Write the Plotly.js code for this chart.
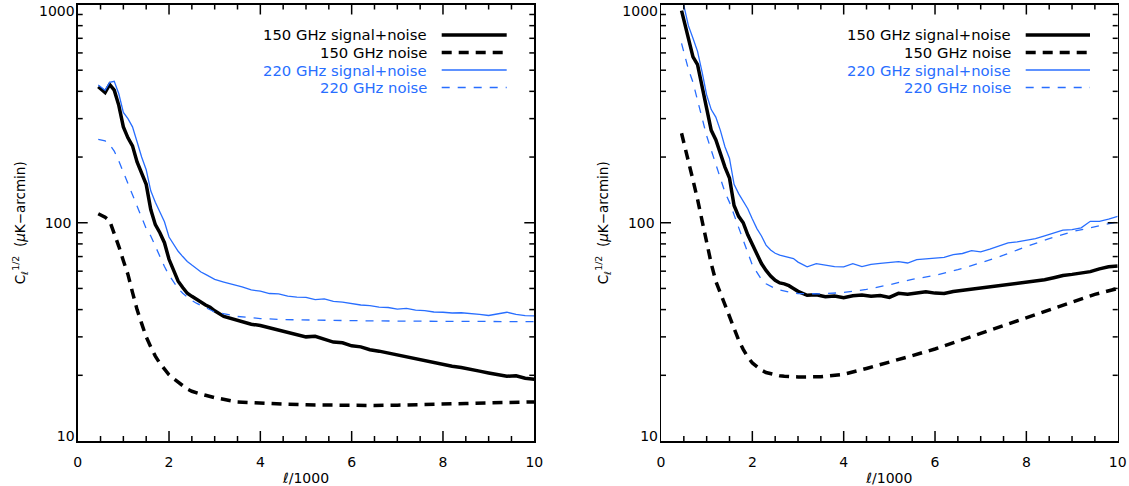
<!DOCTYPE html>
<html>
<head>
<meta charset="utf-8">
<script src="https://cdn.plot.ly/plotly-3.0.1.min.js"></script>
<style>html,body{margin:0;padding:0;background:#fff;}#chart{width:1129px;height:486px;}</style>
</head>
<body>
<div id="chart"></div>
<script>
// ---- data ----
const ellSignal = [0.45,0.6,0.7,0.8,0.9,1.0,1.1,1.2,1.3,1.4,1.5,1.6,1.7,1.8,1.9,2.0,2.1,2.2,2.3,2.4,2.5,2.6,2.7,2.8,2.9,3.0,
  3.2,3.4,3.6,3.8,4.0,4.2,4.4,4.6,4.8,5.0,5.2,5.4,5.6,5.8,6.0,6.2,6.4,6.6,6.8,7.0,7.2,7.4,7.6,7.8,8.0,8.2,8.4,8.6,8.8,9.0,9.2,9.4,9.6,9.8,10.0];
const ellNoise = [0.45,0.6,0.7,0.8,0.9,1.0,1.1,1.2,1.3,1.4,1.5,1.6,1.7,1.8,1.9,2.0,2.1,2.2,2.3,2.4,2.5,2.6,2.7,2.8,2.9,3.0,
  3.5,4.0,4.5,5.0,5.5,6.0,6.5,7.0,7.5,8.0,8.5,9.0,9.5,10.0];

// left panel
const left150SN = [420,395,430,405,345,275,245,225,190,168,150,115,98,90,81,68,60,54,50.5,47.5,46,44.5,43.3,42,41,39.5,
  37.2,36.3,35.3,34.3,33.8,33.0,32.5,31.6,31.0,30.0,30.2,29.2,28.4,28.2,27.3,27.0,26.2,25.8,25.3,24.8,24.2,23.7,23.3,22.8,22.4,22.0,21.7,21.2,20.9,20.5,20.2,19.8,19.9,19.4,19.2];
const left150N = [110,106,102,90,78,67,58,48,40,34.6,30,27,24.5,22.7,21.2,20.1,19.3,18.6,17.9,17.3,16.9,16.6,16.4,16.2,16.0,15.8,
  15.1,14.9,14.75,14.65,14.6,14.55,14.55,14.6,14.65,14.75,14.85,14.95,15.0,15.1];
const left220SN = [428,405,440,445,390,320,300,275,235,200,175,140,124,112,101,86,80,74,70,66.5,64,61.5,59.5,58,56.5,55,
  53.5,52.3,50.8,49.2,48.6,47.4,47.2,46.1,45.6,45.5,44.4,44.8,43.6,43.3,42.6,42.0,41.7,41.1,40.9,40.2,40.5,39.8,39.6,39.0,38.9,38.6,38.7,38.2,38.0,37.6,38.2,38.9,38.0,37.5,37.4];
const left220N = [241,237,228,213,192,170,150,133,118,105,94,87,78,70,63,57.5,53.5,50,47.5,45.5,44,42.8,41.8,40.8,39.8,39,
  37.2,36.4,36.0,35.8,35.7,35.6,35.5,35.4,35.4,35.3,35.3,35.3,35.2,35.2];

// right panel
const right150SN = [938,700,575,530,420,320,265,240,205,180,160,120,107,100,88,80,72,65,60.5,57,54.5,53,52.5,51.5,50,48.5,
  46.5,46.8,45.8,46.2,45.4,46.3,46.7,46.0,46.4,45.5,47.5,47.0,47.6,48.3,47.6,47.4,48.4,49.0,49.6,50.5,50.9,51.4,52.3,52.8,53.4,53.9,54.8,56.0,57.3,58.0,58.7,59.7,61.5,62.8,63.4];
const right150N = [257,195,157,128,102,81,65,54,47.5,41.5,36.5,32.5,29,26.3,24.2,22.8,21.8,21.1,20.6,20.3,20.1,19.9,19.8,19.7,19.7,19.65,
  19.7,20.2,21.5,22.9,24.6,26.4,28.7,31.2,33.7,36.6,39.8,43.2,47,50];
const right220SN = [1100,800,700,610,490,385,330,305,265,223,197,150,136,126,116,104,94,87,79,75,72.5,71,70,69.5,68.5,66,
  62.8,65,64.2,63,62.8,65.0,63.0,64.5,65.2,65.8,66.3,65.4,67.8,68.3,68.8,69.4,71.5,72.3,74.5,73.6,75.8,78.2,80.9,81.8,83.0,84.5,87.0,89.5,92.5,93.0,94.8,101.5,101.5,104,107];
const right220N = [663,505,440,365,305,250,215,185,160,138,124,108,94,83,73,64,59,55,52.5,51,50,49.2,48.6,48.1,47.7,47.4,
  47.2,47.9,49.5,52,55,57.4,61,65.5,71,77.8,84.5,91,96,101];

const xRange = [0, 10];
const xTickVals = [0,2,4,6,8,10];
const xMinorVals = [0.5,1,1.5,2.5,3,3.5,4.5,5,5.5,6.5,7,7.5,8.5,9,9.5];
const yTickVals = [10,100,1000];
const yMinorVals = [20,30,40,50,60,70,80,90,200,300,400,500,600,700,800,900];
const legendLabels = ['150 GHz signal+noise','150 GHz noise','220 GHz signal+noise','220 GHz noise'];

// ---- styling ----
const W = 1129, H = 486;
const px = v => v / W, py = v => 1 - v / H;
const BLUE = 'rgb(40,110,255)';
const FONT = 'DejaVu Sans, Liberation Sans, sans-serif';
const styles = [
  {color:'#000', width:3.5, dash:'solid'},
  {color:'#000', width:3.5, dash:'10px,7px'},
  {color:BLUE, width:1.3, dash:'solid'},
  {color:BLUE, width:1.3, dash:'8px,8px'}
];

function tr(x, y, s, xa, ya) {
  return {x:x, y:y, type:'scatter', mode:'lines', xaxis:xa, yaxis:ya, showlegend:false,
          line:{color:s.color, width:s.width, dash:s.dash}, hoverinfo:'skip'};
}
// blue traces sit on overlaid y axes (same range) that carry the edge tick labels
const data = [
  tr(ellSignal, left150SN, styles[0], 'x', 'y'),
  tr(ellNoise, left150N, styles[1], 'x', 'y'),
  tr(ellSignal, left220SN, styles[2], 'x', 'y3'),
  tr(ellNoise, left220N, styles[3], 'x', 'y4'),
  tr(ellSignal, right150SN, styles[0], 'x2', 'y2'),
  tr(ellNoise, right150N, styles[1], 'x2', 'y2'),
  tr(ellSignal, right220SN, styles[2], 'x2', 'y5'),
  tr(ellNoise, right220N, styles[3], 'x2', 'y6')
];

const tickfont = {family:FONT, size:14, color:'#000'};
const YR = [1, 3];
function xAxis(domain, anchor) {
  return {domain:domain, anchor:anchor, range:xRange, showline:true, linecolor:'#000', linewidth:1.5,
    mirror:true, ticks:'', ticklabelstandoff:8,
    tickmode:'array', tickvals:xTickVals, ticktext:xTickVals.map(String),
    showgrid:false, zeroline:false, tickfont:tickfont, fixedrange:true,
    title:{text:'ℓ/1000', font:{family:FONT, size:14, color:'#000'}, standoff:5}};
}
function yAxis(domain, anchor) {
  return {domain:domain, anchor:anchor, type:'log', range:YR, showline:true, linecolor:'#000', linewidth:1.5,
    mirror:true, ticks:'', ticklabelstandoff:2,
    tickmode:'array', tickvals:[100], ticktext:['100'],
    showgrid:false, zeroline:false, tickfont:tickfont, fixedrange:true,
    title:{text:'C<sub>ℓ</sub><sup>1/2</sup>  (<i>μ</i>K−arcmin)', font:{family:FONT, size:13.5, color:'#000'}, standoff:16}};
}
function yEdgeLabel(overlay, anchor, val, shift) {
  return {overlaying:overlay, anchor:anchor, type:'log', range:YR, showline:false, ticks:'',
    tickmode:'array', tickvals:[val], ticktext:[String(val)], ticklabelshift:shift, ticklabelstandoff:2,
    ticklabeloverflow:'allow', tickfont:tickfont, showgrid:false, zeroline:false, fixedrange:true};
}

const yDom = [py(441), py(4.5)];
const layout = {
  width:W, height:H, margin:{l:0, r:0, t:0, b:0},
  paper_bgcolor:'#fff', plot_bgcolor:'#fff', showlegend:false,
  xaxis: xAxis([px(77.7), px(534.3)], 'y'),
  yaxis: yAxis(yDom, 'x'),
  xaxis2: xAxis([px(661), px(1117.7)], 'y2'),
  yaxis2: yAxis(yDom, 'x2'),
  yaxis3: yEdgeLabel('y', 'x', 1000, 7),
  yaxis4: yEdgeLabel('y', 'x', 10, -5),
  yaxis5: yEdgeLabel('y2', 'x2', 1000, 7),
  yaxis6: yEdgeLabel('y2', 'x2', 10, -5),
  annotations: [], shapes: []
};

const rows = [35, 52.5, 70, 87.5];
const legendPanels = [{textRight:429, lineL:441.7, lineR:506.7}, {textRight:1012.7, lineL:1025.7, lineR:1090}];
legendPanels.forEach(p => {
  legendLabels.forEach((lab, i) => {
    layout.annotations.push({xref:'paper', yref:'paper', x:px(p.textRight), y:py(rows[i]),
      xanchor:'right', yanchor:'middle', text:lab, showarrow:false,
      font:{family:FONT, size:14.8, color:styles[i].color}});
    layout.shapes.push({type:'line', xref:'paper', yref:'paper', x0:px(p.lineL), x1:px(p.lineR),
      y0:py(rows[i]), y1:py(rows[i]), line:{color:styles[i].color, width:styles[i].width, dash:styles[i].dash}});
  });
});

Plotly.newPlot('chart', data, layout, {displayModeBar:false, staticPlot:true}).then(gd => {
  // inside tick marks on all four sides, placed with the axes' own scales (c2p), drawn in paper space
  const fl = gd._fullLayout;
  const ticks = [];
  const seg = (x0, y0, x1, y1) => ticks.push({type:'line', xref:'paper', yref:'paper',
    x0:x0 / fl.width, x1:x1 / fl.width, y0:1 - y0 / fl.height, y1:1 - y1 / fl.height,
    line:{color:'#000', width:1.5}});
  [['xaxis','yaxis'], ['xaxis2','yaxis2']].forEach(([xn, yn]) => {
    const xa = fl[xn], ya = fl[yn];
    const xL = xa._offset, xR = xa._offset + xa._length;
    const yT = ya._offset, yB = ya._offset + ya._length;
    const addX = (vals, len) => vals.forEach(v => {
      const p = xa._offset + xa.c2p(v);
      seg(p, yB, p, yB - len); seg(p, yT, p, yT + len);
    });
    const addY = (vals, len) => vals.forEach(v => {
      const p = ya._offset + ya.c2p(v);
      seg(xL, p, xL + len, p); seg(xR, p, xR - len, p);
    });
    addX(xTickVals.slice(1, -1), 10);
    addX(xMinorVals, 5);
    addY(yTickVals.slice(1, -1), 10);
    addY(yMinorVals, 5);
  });
  return Plotly.relayout(gd, {shapes: layout.shapes.concat(ticks)});
});
</script>
</body>
</html>
